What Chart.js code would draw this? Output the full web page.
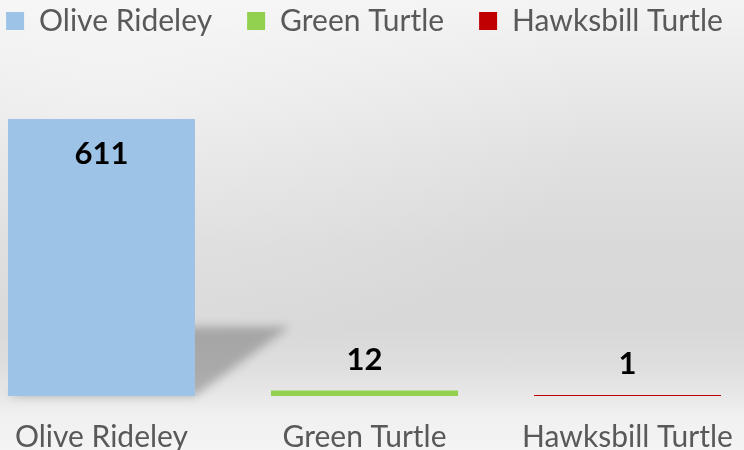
<!DOCTYPE html>
<html>
<head>
<meta charset="utf-8">
<script src="https://cdn.jsdelivr.net/npm/chart.js@4.4.1/dist/chart.umd.min.js"></script>
<style>
    html, body {
        margin: 0;
        padding: 0;
        width: 744px;
        height: 450px;
        overflow: hidden;
    }
    body {
        position: relative;
        background:
            radial-gradient(ellipse at 15% 20%, rgba(255,255,255,0.4), rgba(255,255,255,0) 55%),
            linear-gradient(to bottom, #f4f4f4 0%, #eeeeee 9%, #e1e1e1 33%, #d9d9d9 55%, #d8d8d8 73%, #dfdfdf 82%, #e8e8e8 88%, #f0f0f0 92%, #f4f4f4 100%);
    }
    /* the original picture is cropped on both sides, so the canvas is a little bigger than the window */
    #wrap {
        position: absolute;
        left: -30px;
        top: -29px;
        width: 789px;
        height: 507px;
    }
</style>
</head>
<body>
<div id="wrap"><canvas id="turtle-chart"></canvas></div>
<script>
// 数据
const species = ['Olive Rideley', 'Green Turtle', 'Hawksbill Turtle'];
const counts = [611, 12, 1];
const colors = ['#9DC3E6', '#92D050', '#C00000'];

const FONT = 'Lato';

// 柱子后面的斜向阴影
const shadowPlugin = {
    id: 'barShadow',
    beforeDatasetsDraw(chart) {
        const ctx = chart.ctx;
        const meta = chart.getDatasetMeta(0);
        ctx.save();
        ctx.filter = 'blur(5px)';
        ctx.fillStyle = 'rgba(0,0,0,0.24)';
        meta.data.forEach(bar => {
            const h = bar.base - bar.y;
            if (h < 20) return;
            const half = bar.width / 2;
            const sh = h * 0.25;
            const skew = sh * 1.37;
            ctx.beginPath();
            ctx.moveTo(bar.x - half, bar.base);
            ctx.lineTo(bar.x + half, bar.base);
            ctx.lineTo(bar.x + half + skew, bar.base - sh);
            ctx.lineTo(bar.x - half + skew, bar.base - sh);
            ctx.closePath();
            ctx.fill();
        });
        ctx.restore();
    }
};

// 数值标签
const valueLabels = {
    id: 'valueLabels',
    afterDatasetsDraw(chart) {
        const ctx = chart.ctx;
        const meta = chart.getDatasetMeta(0);
        const ds = chart.data.datasets[0].data;
        const max = chart.scales.y.max;
        ctx.save();
        ctx.font = 'bold 31px ' + FONT;
        ctx.fillStyle = '#000000';
        ctx.textAlign = 'center';
        ctx.textBaseline = 'middle';
        meta.data.forEach((bar, i) => {
            const v = ds[i];
            const y = v / max > 0.5 ? bar.y + 35 : bar.y - 31;
            ctx.fillText(String(v), bar.x, y);
        });
        ctx.restore();
    }
};

new Chart(document.getElementById('turtle-chart'), {
    type: 'bar',
    data: {
        labels: species,
        datasets: [{
            label: 'Count',
            data: counts,
            backgroundColor: colors,
            borderWidth: 0,
            minBarLength: 1,
            barPercentage: 0.711,
            categoryPercentage: 1
        }]
    },
    options: {
        responsive: true,
        maintainAspectRatio: false,
        animation: false,
        layout: { padding: 0 },
        plugins: {
            tooltip: { enabled: false },
            legend: {
                position: 'top',
                labels: {
                    font: { family: FONT, size: 30 },
                    color: '#595959',
                    boxWidth: 18,
                    boxHeight: 18,
                    padding: 35,
                    generateLabels: (chart) => species.map((name, i) => ({
                        text: name,
                        fillStyle: colors[i],
                        strokeStyle: colors[i],
                        lineWidth: 0,
                        fontColor: '#595959',
                        hidden: false,
                        index: i
                    }))
                }
            }
        },
        scales: {
            x: {
                grid: { display: false, drawTicks: false },
                border: { display: false },
                ticks: {
                    font: { family: FONT, size: 30 },
                    color: '#595959',
                    padding: 23,
                    maxRotation: 0,
                    autoSkip: false
                }
            },
            y: {
                display: false,
                min: 0,
                max: 772
            }
        }
    },
    plugins: [shadowPlugin, valueLabels]
});
</script>
</body>
</html>
